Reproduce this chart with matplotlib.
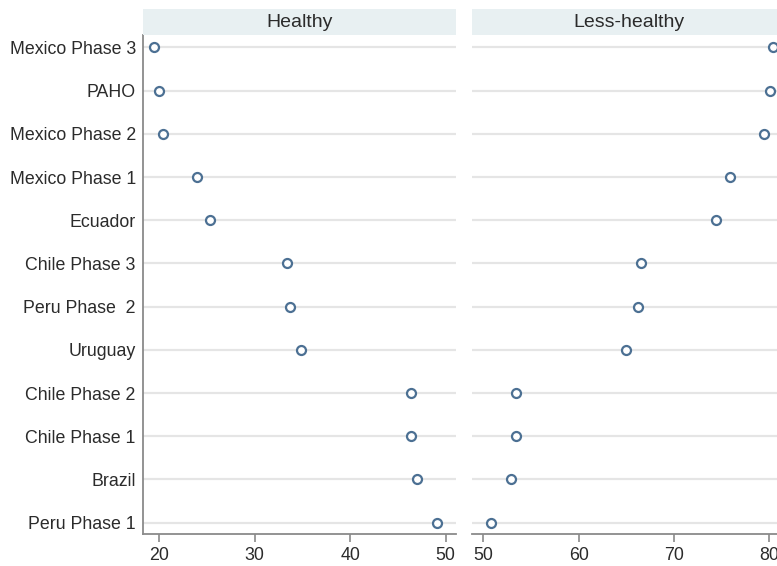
import matplotlib
matplotlib.use("Agg")
import matplotlib.pyplot as plt

plt.rcParams['font.family'] = ['Liberation Sans', 'DejaVu Sans']

# rows, top to bottom
labels = ["Mexico Phase 3", "PAHO", "Mexico Phase 2", "Mexico Phase 1", "Ecuador",
          "Chile Phase 3", "Peru Phase  2", "Uruguay", "Chile Phase 2", "Chile Phase 1",
          "Brazil", "Peru Phase 1"]
healthy = [19.4, 20.0, 20.4, 24.0, 25.3, 33.4, 33.7, 34.9, 46.4, 46.4, 47.0, 49.1]
less_healthy = [80.4, 80.1, 79.5, 75.9, 74.4, 66.5, 66.2, 65.0, 53.4, 53.4, 52.9, 50.8]
panel_titles = ["Healthy", "Less-healthy"]
ticks_healthy = [20, 30, 40, 50]
ticks_less = [50, 60, 70, 80]

W, H = 777, 566
fig = plt.figure(figsize=(W / 100, H / 100), dpi=100)

txt = "#2b2b2b"
grey = "#8a8a8a"
dotc = "#4c7093"
stripc = "#e8f0f2"

def box(x0, y0, x1, y1):
    # pixel box -> figure fraction rect
    return [x0 / W, 1 - y1 / H, (x1 - x0) / W, (y1 - y0) / H]

panels = [
    (healthy, ticks_healthy, (18.26, 51.13), box(142.7, 35.3, 456.3, 534.3), box(142.7, 9, 456.3, 35.3)),
    (less_healthy, ticks_less, (48.78, 81.7), box(471.7, 35.3, 785.3, 534.3), box(471.7, 9, 785.3, 35.3)),
]

ypos = list(range(1, len(labels) + 1))

for i, (vals, ticks, xl, rect, srect) in enumerate(panels):
    ax = fig.add_axes(rect)
    for y in ypos:
        ax.axhline(y, color="#e5e5e5", lw=1.6, zorder=1)
    ax.scatter(vals, ypos, s=42, facecolors="white", edgecolors=dotc,
               linewidths=1.6, zorder=3)
    ax.set_xlim(*xl)
    ax.set_ylim(12.27, 0.72)
    ax.set_xticks(ticks)
    ax.tick_params(axis="x", colors=grey, labelcolor=txt, labelsize=12.8,
                   length=5.5, width=1.2, pad=4)
    for s in ["top", "right"]:
        ax.spines[s].set_visible(False)
    ax.spines["bottom"].set_color(grey)
    ax.spines["bottom"].set_linewidth(1.3)
    if i == 0:
        ax.set_yticks(ypos)
        ax.set_yticklabels(labels)
        ax.tick_params(axis="y", length=0, labelsize=12.8, labelcolor=txt, pad=5)
        ax.spines["left"].set_color(grey)
        ax.spines["left"].set_linewidth(1.3)
    else:
        ax.set_yticks([])
        ax.spines["left"].set_visible(False)

    sax = fig.add_axes(srect)
    sax.set_facecolor(stripc)
    sax.set_xticks([])
    sax.set_yticks([])
    for s in sax.spines.values():
        s.set_visible(False)
    sax.text(0.5, 0.5, panel_titles[i], ha="center", va="center",
             fontsize=14, color=txt, transform=sax.transAxes)

fig.savefig("out.png", dpi=100)
